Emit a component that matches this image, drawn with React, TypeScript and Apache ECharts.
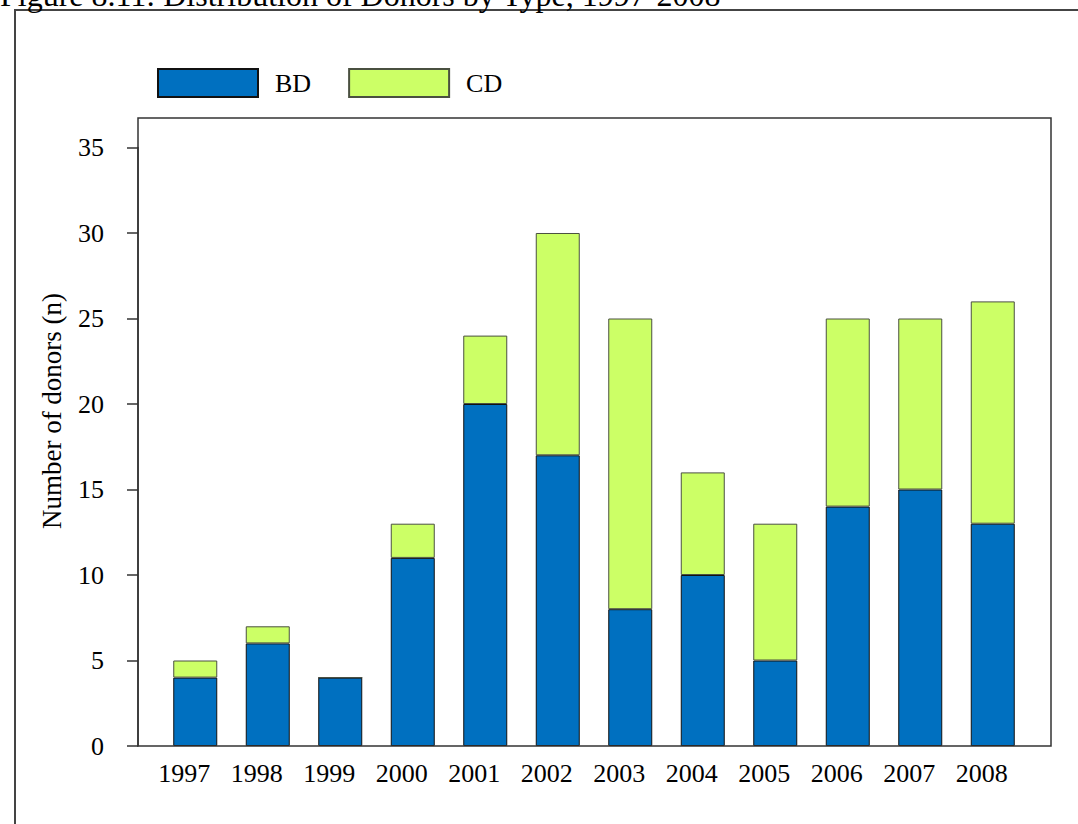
import React, { useEffect, useRef } from "react";
import * as echarts from "echarts";

const categories = ["1997", "1998", "1999", "2000", "2001", "2002", "2003", "2004", "2005", "2006", "2007", "2008"];
const bdValues = [4, 6, 4, 11, 20, 17, 8, 10, 5, 14, 15, 13];
const cdValues = [1, 1, 0, 2, 4, 13, 17, 6, 8, 11, 10, 13];
const seriesNames = ["BD", "CD"];
const titleText = "Figure 8.11: Distribution of Donors by Type, 1997-2008";
const yAxisTitle = "Number of donors (n)";

const FONT = '"Liberation Serif", "Times New Roman", serif';

export default function App() {
  const ref = useRef<HTMLDivElement>(null);
  useEffect(() => {
    if (!ref.current) return;
    const chart = echarts.init(ref.current, null, { renderer: "svg" });
    chart.setOption({
      animation: false,
      backgroundColor: "#ffffff",
      textStyle: { fontFamily: FONT },
      legend: {
        left: 152,
        top: 63,
        itemWidth: 100,
        itemHeight: 28,
        itemGap: 37,
        icon: "rect",
        data: seriesNames,
        textStyle: { fontFamily: FONT, fontSize: 26, color: "#000", padding: [0, 0, 0, 12] },
      },
      grid: { left: 159, width: 870, top: 147.5, bottom: 78, containLabel: false },
      xAxis: {
        type: "category",
        data: categories,
        axisLine: { show: false },
        axisTick: { show: false },
        axisLabel: {
          fontFamily: FONT,
          fontSize: 26,
          color: "#000",
          margin: 14,
          padding: [0, 22, 0, 0],
          interval: 0,
        },
      },
      yAxis: {
        type: "value",
        min: 0,
        max: 35,
        interval: 5,
        offset: 21,
        axisLine: { show: true, lineStyle: { color: "#333", width: 1.5 } },
        axisTick: { show: true, length: 11, lineStyle: { color: "#333", width: 1.5 } },
        axisLabel: { fontFamily: FONT, fontSize: 26, color: "#000", margin: 34 },
        splitLine: { show: false },
      },
      graphic: [
        {
          type: "text",
          left: 0,
          top: -21,
          style: { text: titleText, font: `32px ${FONT}`, fill: "#000" },
        },
        {
          type: "text",
          x: 52,
          y: 411,
          rotation: Math.PI / 2,
          style: {
            text: yAxisTitle,
            font: `27px ${FONT}`,
            fill: "#000",
            align: "center",
            verticalAlign: "middle",
          },
        },
        {
          type: "rect",
          shape: { x: 15, y: 10, width: 1200, height: 1000 },
          style: { fill: "none", stroke: "#444", lineWidth: 2 },
          z: -1,
        },
        {
          type: "rect",
          shape: { x: 138, y: 118, width: 913, height: 628 },
          style: { fill: "none", stroke: "#333", lineWidth: 1.5 },
          z: 10,
        },
      ],
      series: [
        {
          name: seriesNames[0],
          type: "bar",
          stack: "total",
          barWidth: 44,
          data: bdValues,
          itemStyle: { color: "#0070C0", borderColor: "#111", borderWidth: 1 },
        },
        {
          name: seriesNames[1],
          type: "bar",
          stack: "total",
          barWidth: 44,
          data: cdValues,
          itemStyle: { color: "#CCFF66", borderColor: "#4a5040", borderWidth: 1 },
        },
      ],
    });
    return () => chart.dispose();
  }, []);
  return (
    <div
      ref={ref}
      style={{ position: "fixed", left: 0, top: 0, width: 1078, height: 824 }}
    />
  );
}
